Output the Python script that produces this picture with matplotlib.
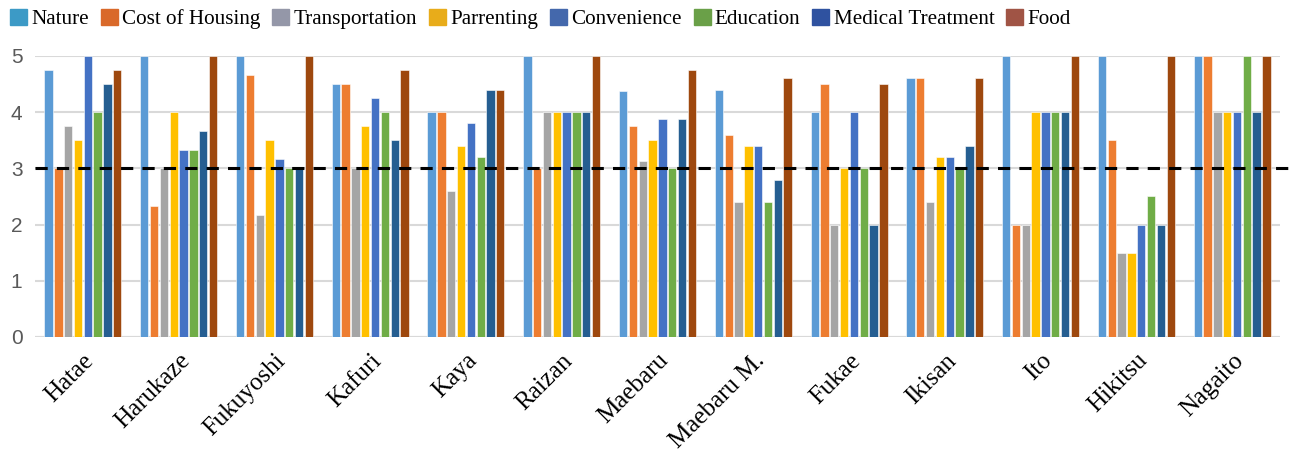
import numpy as np
import matplotlib.pyplot as plt

# Bewertungen je Ort (Skala 0-5)
places = ["Hatae", "Harukaze", "Fukuyoshi", "Kafuri", "Kaya", "Raizan", "Maebaru",
          "Maebaru M.", "Fukae", "Ikisan", "Ito", "Hikitsu", "Nagaito"]

nature      = [4.75, 5.00, 5.00, 4.50, 4.00, 5.00, 4.375, 4.40, 4.00, 4.60, 5.00, 5.00, 5.00]
housing     = [3.00, 2.33, 4.67, 4.50, 4.00, 3.00, 3.75, 3.60, 4.50, 4.60, 2.00, 3.50, 5.00]
transport   = [3.75, 3.00, 2.17, 3.00, 2.60, 4.00, 3.125, 2.40, 2.00, 2.40, 2.00, 1.50, 4.00]
parenting   = [3.50, 4.00, 3.50, 3.75, 3.40, 4.00, 3.50, 3.40, 3.00, 3.20, 4.00, 1.50, 4.00]
convenience = [5.00, 3.33, 3.17, 4.25, 3.80, 4.00, 3.875, 3.40, 4.00, 3.20, 4.00, 2.00, 4.00]
education   = [4.00, 3.33, 3.00, 4.00, 3.20, 4.00, 3.00, 2.40, 3.00, 3.00, 4.00, 2.50, 5.00]
medical     = [4.50, 3.67, 3.00, 3.50, 4.40, 4.00, 3.875, 2.80, 2.00, 3.40, 4.00, 2.00, 4.00]
food        = [4.75, 5.00, 5.00, 4.75, 4.40, 5.00, 4.75, 4.60, 4.50, 4.60, 5.00, 5.00, 5.00]

series = [nature, housing, transport, parenting, convenience, education, medical, food]
labels = ["Nature", "Cost of Housing", "Transportation", "Parrenting", "Convenience",
          "Education", "Medical Treatment", "Food"]
bar_colors = ["#5B9BD5", "#ED7D31", "#A5A5A5", "#FFC000", "#4472C4", "#70AD47", "#255E91", "#9E480E"]
legend_colors = ["#3C9AC6", "#D9692A", "#9497A8", "#E8AC1A", "#4468AC", "#6AA048", "#2F52A0", "#A05445"]

plt.rcParams["font.family"] = ["Liberation Serif", "DejaVu Serif"]

fig = plt.figure(figsize=(13, 4.5), dpi=100)
ax = fig.add_axes([35 / 1300, 113 / 450, 1245 / 1300, 281 / 450])

x = np.arange(len(places))
n = len(series)
slot = 0.82 / n
for i, (vals, col) in enumerate(zip(series, bar_colors)):
    ax.bar(x - 0.41 + slot * (i + 0.5), vals, width=slot * 0.85, color=col,
           edgecolor="white", linewidth=0.4, zorder=2)

# Referenzlinie bei 3
ax.axhline(3, xmin=0, xmax=1.013, color="black", linestyle=(0, (4, 3)), linewidth=2.2,
           clip_on=False, zorder=3)

ax.set_xlim(-0.5, len(places) - 0.5)
ax.set_ylim(0, 5)
ax.set_yticks(range(6))
ax.yaxis.grid(True, color="#D9D9D9", linewidth=1.5, zorder=0)
ax.set_axisbelow(True)
for s in ax.spines.values():
    s.set_visible(False)
ax.axhline(0, color="#D9D9D9", linewidth=1.5, zorder=1)

ax.tick_params(axis="both", length=0)
ax.tick_params(axis="y", labelsize=15, labelcolor="#595959", pad=9)
for t in ax.get_yticklabels():
    t.set_family(["Liberation Sans", "DejaVu Sans"])
ax.set_xticks(x)
ax.set_xticklabels(places, rotation=45, ha="right", rotation_mode="anchor", fontsize=18)
ax.tick_params(axis="x", pad=9)

handles = [plt.Rectangle((0, 0), 1, 1, color=c) for c in legend_colors]
fig.legend(handles, labels, loc="upper left", bbox_to_anchor=(-0.002, 1.008), ncol=8,
           frameon=False, fontsize=15.2, handlelength=0.8, handleheight=0.8,
           handletextpad=0.2, columnspacing=0.57, borderaxespad=0.2)

fig.savefig("out.png", dpi=100)
